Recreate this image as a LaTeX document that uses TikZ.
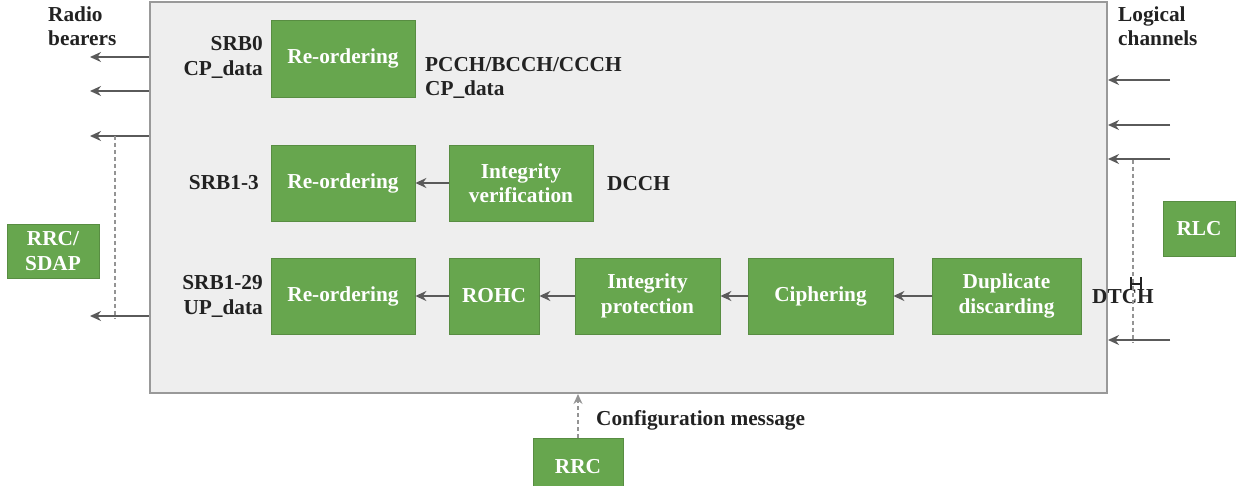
\documentclass[tikz,border=0pt]{standalone}
\usepackage{fontspec}
\setmainfont{Liberation Serif}
\usetikzlibrary{arrows.meta}
\definecolor{boxgreen}{HTML}{67A64E}
\definecolor{panel}{HTML}{EEEEEE}
\definecolor{edge}{HTML}{999999}
\definecolor{wire}{HTML}{5A5A5A}
\definecolor{ink}{HTML}{222222}
\begin{document}
\begin{tikzpicture}[x=1pt,y=-1pt,
  font=\fontsize{21.3}{24.5}\selectfont\bfseries,
  gbox/.style={draw=boxgreen!85!black, line width=0.8pt, fill=boxgreen, text=white, align=center, inner sep=0pt},
  lab/.style={text=ink, inner sep=0pt},
  arr/.style={draw=wire, line width=1.7pt, -{Stealth[length=11pt,width=10pt]}},
  dsh/.style={draw=wire!65, line width=1.4pt, dash pattern=on 4pt off 3pt},
  dsharr/.style={dsh, -{Stealth[length=10pt,width=9pt]}},
  panelbox/.style={draw=edge, fill=panel, line width=2pt, inner sep=0pt}]
\useasboundingbox (0,0) rectangle (1243,486);

% main panel
\node[panelbox, minimum width=957pt, minimum height=391pt] (main) at (628.5,197.5) {};

% outer boxes
\node[gbox, minimum width=92pt, minimum height=54pt] (rrcsdap) at (53,251) {RRC/\\SDAP};
\node[gbox, minimum width=72pt, minimum height=55pt] (rlc) at (1199,228.5) {RLC};
\node[gbox, minimum width=90pt, minimum height=58pt] (rrc) at (578,467) {RRC};

% row 1
\node[gbox, minimum width=144pt, minimum height=77pt] (ro1) at (343,58.5) {Re-ordering};
% row 2
\node[gbox, minimum width=144pt, minimum height=76pt] (ro2) at (343,183) {Re-ordering};
\node[gbox, minimum width=144pt, minimum height=76pt] (iv) at (521,183) {Integrity\\verification};
% row 3
\node[gbox, minimum width=144pt, minimum height=76pt] (ro3) at (343,296) {Re-ordering};
\node[gbox, minimum width=90pt, minimum height=76pt] (rohc) at (494,296) {ROHC};
\node[gbox, minimum width=145pt, minimum height=76pt] (ip) at (647.5,296) {Integrity\\protection};
\node[gbox, minimum width=145pt, minimum height=76pt] (ciph) at (820.5,296) {Ciphering};
\node[gbox, minimum width=149pt, minimum height=76pt] (dup) at (1006.5,296) {Duplicate\\discarding};

% arrows between blocks
\draw[arr] (iv) -- (ro2);
\draw[arr] (rohc) -- (ro3);
\draw[arr] (ip) -- (rohc);
\draw[arr] (ciph) -- (ip);
\draw[arr] (dup) -- (ciph);

% labels
\node[lab, anchor=east, align=right] (l0) at (263,57.5) {SRB0\\CP\_data};
\node[lab, anchor=west, align=left] (l0r) at (425,78) {PCCH/BCCH/CCCH\\CP\_data};
\node[lab, anchor=east] (l1) at (259,183) {SRB1-3};
\node[lab, anchor=west] (l1r) at (607,184) {DCCH};
\node[lab, anchor=east, align=right] (l2) at (263,296.5) {SRB1-29\\UP\_data};
\node[lab, anchor=west] (l2r) at (1092,297) {DTCH};
\node[lab, anchor=west, align=left] (rbtxt) at (48,26) {Radio\\bearers};
\node[lab, anchor=west, align=left] (lctxt) at (1118,26) {Logical\\channels};
\node[lab, anchor=west] (cfg) at (596,420) {Configuration message};

% radio bearer outputs (left)
\coordinate (rb1) at (90,57);
\coordinate (rb2) at (90,91);
\coordinate (rb3) at (90,136);
\coordinate (rb4) at (90,316);
\foreach \c in {rb1,rb2,rb3,rb4}
  \draw[arr] (main.west |- \c) -- (\c);
\coordinate (ld1) at (115,136);
\coordinate (ld2) at (115,319);
\draw[dsh] (ld1) -- (ld2);

% logical channel inputs (right)
\coordinate (lc1) at (1170,80);
\coordinate (lc2) at (1170,125);
\coordinate (lc3) at (1170,159);
\coordinate (lc4) at (1170,340);
\foreach \c in {lc1,lc2,lc3,lc4}
  \draw[arr] (\c) -- (main.east |- \c);
\coordinate (rd1) at (1133,160);
\coordinate (rd2) at (1133,343);
\draw[dsh] (rd1) -- (rd2);
% small H mark
\draw[ink, line width=1.6pt] (1131,277) -- (1131,290) (1141,277) -- (1141,290) (1131,284) -- (1141,284);

% configuration message
\draw[dsharr] (rrc.north) -- (rrc.north |- main.south);
\end{tikzpicture}
\end{document}
